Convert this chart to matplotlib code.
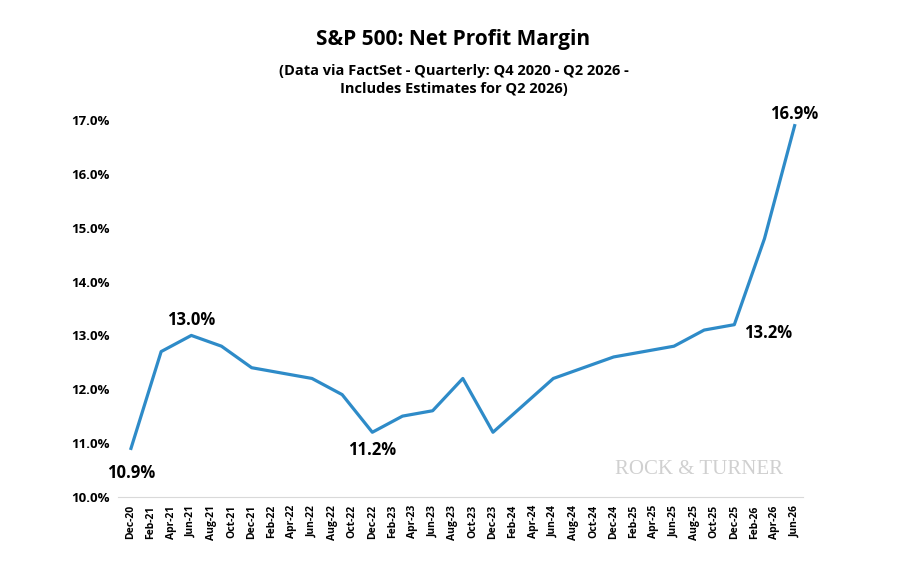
import matplotlib.pyplot as plt
import matplotlib.ticker as mticker

plt.rcParams['font.family'] = ['Open Sans', 'DejaVu Sans']

# quarterly net profit margin (%), Dec-20 .. Jun-26
quarters = ['Dec-20', 'Mar-21', 'Jun-21', 'Sep-21', 'Dec-21', 'Mar-22', 'Jun-22', 'Sep-22',
            'Dec-22', 'Mar-23', 'Jun-23', 'Sep-23', 'Dec-23', 'Mar-24', 'Jun-24', 'Sep-24',
            'Dec-24', 'Mar-25', 'Jun-25', 'Sep-25', 'Dec-25', 'Mar-26', 'Jun-26']
margin = [10.9, 12.7, 13.0, 12.8, 12.4, 12.3, 12.2, 11.9,
          11.2, 11.5, 11.6, 12.2, 11.2, 11.7, 12.2, 12.4,
          12.6, 12.7, 12.8, 13.1, 13.2, 14.8, 16.9]
month_names = ['Dec', 'Feb', 'Apr', 'Jun', 'Aug', 'Oct']
tick_labels = []
for i in range(34):
    yr = 20 + (i + 5) // 6
    tick_labels.append('%s-%02d' % (month_names[i % 6], yr))

# x position in months since Dec-20
xs = [3 * i for i in range(len(margin))]

fig = plt.figure(figsize=(9.07, 5.62), dpi=100)
ax = fig.add_axes([0.13, 0.116, 0.755, 0.67])
ax.plot(xs, margin, color='#2E8BC8', lw=2.3)

ax.set_ylim(10, 17)
ax.set_xlim(-1.3, xs[-1] + 0.8)
ax.yaxis.set_major_locator(mticker.MultipleLocator(1))
ax.yaxis.set_major_formatter(mticker.FormatStrFormatter('%.1f%%'))
ax.set_xticks(range(0, 67, 2))
ax.set_xticklabels(tick_labels, rotation=90, fontsize=7.5, fontweight='bold')
for t in ax.get_yticklabels():
    t.set_fontsize(9.5)
    t.set_fontweight('bold')
ax.tick_params(length=0, pad=6)
for s in ['top', 'right', 'left']:
    ax.spines[s].set_visible(False)
ax.spines['bottom'].set_color('#d9d9d9')

# callouts
notes = [(0, -0.45, '10.9%'), (2, 0.28, '13.0%'), (8, -0.33, '11.2%'),
         (20, -0.15, '13.2%'), (22, 0.22, '16.9%')]
for idx, dy, txt in notes:
    dx = 1.0 if idx == 20 else 0
    ha = 'left' if idx == 20 else 'center'
    ax.text(xs[idx] + dx, margin[idx] + dy, txt, ha=ha, va='center',
            fontsize=12, fontweight='bold')

ax.text(56.5, 10.5, 'ROCK & TURNER', ha='center', va='center', fontsize=15,
        family='Liberation Serif', color='#d0d0d0')

fig.text(0.5, 0.929, 'S&P 500: Net Profit Margin', ha='center', va='center',
         fontsize=15, fontweight='bold')
fig.text(0.5, 0.858, '(Data via FactSet - Quarterly: Q4 2020 - Q2 2026 -\nIncludes Estimates for Q2 2026)',
         ha='center', va='center', fontsize=10.5, fontweight='bold', linespacing=1.4)

fig.savefig('out.png', dpi=100)
